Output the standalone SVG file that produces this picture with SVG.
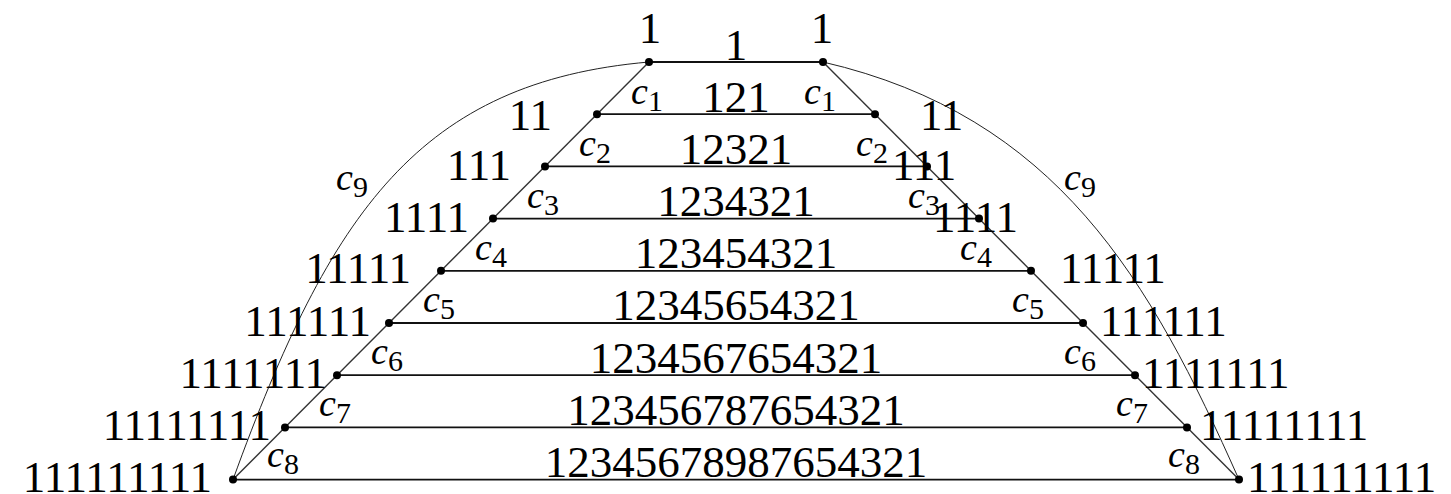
<svg xmlns="http://www.w3.org/2000/svg" width="1451" height="494" viewBox="0 0 1451 494">
<style>
.n{font-family:"Liberation Serif","Times New Roman",serif;font-size:45px;fill:#000}
.c{font-family:"Liberation Serif","Times New Roman",serif;font-size:38px;font-style:italic;fill:#000}
.s{font-family:"Liberation Serif","Times New Roman",serif;font-size:30px;fill:#000}
.h{stroke:#111;stroke-width:1.8;fill:none}
.d{stroke:#333;stroke-width:1.4;fill:none}
.a{stroke:#222;stroke-width:1;fill:none}
.dot{fill:#000}
</style>
<rect width="1451" height="494" fill="#fff"/>
<g id="connectors">
<line class="h" x1="649" y1="62" x2="823" y2="62"/>
<line class="h" x1="597" y1="114.2" x2="875" y2="114.2"/>
<line class="h" x1="545" y1="166.4" x2="927" y2="166.4"/>
<line class="h" x1="493" y1="218.6" x2="979" y2="218.6"/>
<line class="h" x1="441" y1="270.8" x2="1031" y2="270.8"/>
<line class="h" x1="389" y1="323" x2="1083" y2="323"/>
<line class="h" x1="337" y1="375.2" x2="1135" y2="375.2"/>
<line class="h" x1="285" y1="427.4" x2="1187" y2="427.4"/>
<line class="h" x1="233" y1="479.6" x2="1239" y2="479.6"/>
<line class="d" x1="649" y1="62" x2="233" y2="479.6"/>
<line class="d" x1="823" y1="62" x2="1239" y2="479.6"/>
<path class="a" d="M649,62 C420,82 330.5,211 233,479.6"/>
<path class="a" d="M823,62 C1056.8,116 1150.3,279.8 1239,479.6"/>
<g id="row-labels" class="n" text-anchor="middle">
<text x="736" y="60">1</text>
<text x="736" y="112">121</text>
<text x="736" y="164">12321</text>
<text x="736" y="216">1234321</text>
<text x="736" y="268">123454321</text>
<text x="736" y="320">12345654321</text>
<text x="736" y="373">1234567654321</text>
<text x="736" y="425">123456787654321</text>
<text x="736" y="477">12345678987654321</text>
</g>
<g id="edge-labels">
<text class="c" x="631" y="104">c</text><text class="s" x="648" y="111">1</text>
<text class="c" x="579" y="156">c</text><text class="s" x="596" y="163">2</text>
<text class="c" x="527" y="208">c</text><text class="s" x="544" y="215">3</text>
<text class="c" x="475" y="260">c</text><text class="s" x="492" y="267">4</text>
<text class="c" x="423" y="312">c</text><text class="s" x="440" y="319">5</text>
<text class="c" x="371" y="364">c</text><text class="s" x="388" y="371">6</text>
<text class="c" x="319" y="416">c</text><text class="s" x="336" y="423">7</text>
<text class="c" x="267" y="467">c</text><text class="s" x="284" y="474">8</text>
<text class="c" x="804" y="104">c</text><text class="s" x="821" y="111">1</text>
<text class="c" x="856" y="156">c</text><text class="s" x="873" y="163">2</text>
<text class="c" x="908" y="208">c</text><text class="s" x="925" y="215">3</text>
<text class="c" x="960" y="260">c</text><text class="s" x="977" y="267">4</text>
<text class="c" x="1012" y="312">c</text><text class="s" x="1029" y="319">5</text>
<text class="c" x="1064" y="364">c</text><text class="s" x="1081" y="371">6</text>
<text class="c" x="1116" y="416">c</text><text class="s" x="1133" y="423">7</text>
<text class="c" x="1168" y="467">c</text><text class="s" x="1185" y="474">8</text>
<text class="c" x="336" y="190">c</text><text class="s" x="353" y="197">9</text>
<text class="c" x="1064" y="190">c</text><text class="s" x="1081" y="197">9</text>
</g>
</g>
<g id="L0"><circle class="dot" cx="649" cy="62" r="4"/><text class="n" x="650" y="43" text-anchor="middle">1</text></g>
<g id="L1"><circle class="dot" cx="597" cy="114.2" r="4"/><text class="n" x="552" y="130" text-anchor="end">11</text></g>
<g id="L2"><circle class="dot" cx="545" cy="166.4" r="4"/><text class="n" x="511" y="180" text-anchor="end">111</text></g>
<g id="L3"><circle class="dot" cx="493" cy="218.6" r="4"/><text class="n" x="469" y="232" text-anchor="end">1111</text></g>
<g id="L4"><circle class="dot" cx="441" cy="270.8" r="4"/><text class="n" x="411" y="283" text-anchor="end">11111</text></g>
<g id="L5"><circle class="dot" cx="389" cy="323" r="4"/><text class="n" x="371" y="336" text-anchor="end">111111</text></g>
<g id="L6"><circle class="dot" cx="337" cy="375.2" r="4"/><text class="n" x="327" y="388" text-anchor="end">1111111</text></g>
<g id="L7"><circle class="dot" cx="285" cy="427.4" r="4"/><text class="n" x="271" y="440" text-anchor="end">11111111</text></g>
<g id="L8"><circle class="dot" cx="233" cy="479.6" r="4"/><text class="n" x="212" y="492" text-anchor="end">111111111</text></g>
<g id="R0"><circle class="dot" cx="823" cy="62" r="4"/><text class="n" x="822" y="43" text-anchor="middle">1</text></g>
<g id="R1"><circle class="dot" cx="875" cy="114.2" r="4"/><text class="n" x="920" y="130">11</text></g>
<g id="R2"><circle class="dot" cx="927" cy="166.4" r="4"/><text class="n" x="892" y="180">111</text></g>
<g id="R3"><circle class="dot" cx="979" cy="218.6" r="4"/><text class="n" x="933" y="232">1111</text></g>
<g id="R4"><circle class="dot" cx="1031" cy="270.8" r="4"/><text class="n" x="1060" y="283">11111</text></g>
<g id="R5"><circle class="dot" cx="1083" cy="323" r="4"/><text class="n" x="1100" y="336">111111</text></g>
<g id="R6"><circle class="dot" cx="1135" cy="375.2" r="4"/><text class="n" x="1142" y="388">1111111</text></g>
<g id="R7"><circle class="dot" cx="1187" cy="427.4" r="4"/><text class="n" x="1200" y="440">11111111</text></g>
<g id="R8"><circle class="dot" cx="1239" cy="479.6" r="4"/><text class="n" x="1247" y="492">111111111</text></g>
</svg>
